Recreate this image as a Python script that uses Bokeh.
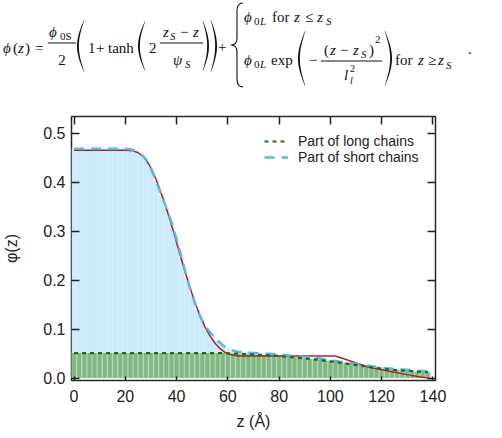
import math
from bokeh.plotting import figure
from bokeh.models import (Range1d, LinearAxis, Legend, LegendItem, FixedTicker,
                          PrintfTickFormatter, CustomJSTickFormatter, Div)
from bokeh.layouts import column
from bokeh.embed import file_html
from bokeh.resources import INLINE

# ---------------- data ----------------
z = list(range(0, 140, 2))  # depth, Å (0..138)

long_part = [0.051] * 30 + [
    0.0505, 0.050, 0.0498, 0.049, 0.0485, 0.048, 0.0475, 0.047, 0.0465, 0.046,
    0.045, 0.044, 0.043, 0.042, 0.041, 0.040, 0.039, 0.038, 0.037, 0.035,
    0.034, 0.033, 0.031, 0.030, 0.028, 0.027, 0.025, 0.024, 0.022, 0.021,
    0.019, 0.018, 0.017, 0.016, 0.0155, 0.015, 0.014, 0.013, 0.0125, 0.012]

short_part = [0.417] * 11 + [
    0.416, 0.413, 0.407, 0.396, 0.377, 0.351, 0.324, 0.296, 0.267, 0.232,
    0.194, 0.154, 0.119, 0.089, 0.066, 0.049, 0.037, 0.026, 0.016, 0.0095,
    0.006, 0.004] + [0.003] * 18 + [0.002] * 19

fit_z = [0, 20, 23, 25, 27, 29, 31, 33, 35, 37, 39, 41, 43, 45, 47, 49, 51, 53,
         55, 57, 59, 61, 64, 102, 115, 120, 125, 130, 134, 138]
fit_y = [0.465, 0.465, 0.464, 0.460, 0.452, 0.438, 0.418, 0.392, 0.362, 0.330,
         0.295, 0.258, 0.222, 0.188, 0.157, 0.129, 0.105, 0.086, 0.071, 0.060,
         0.052, 0.048, 0.045, 0.045, 0.022, 0.017, 0.012, 0.007, 0.003, 0.0]

total = [a + b for a, b in zip(long_part, short_part)]

x_ticks = [0, 20, 40, 60, 80, 100, 120, 140]
y_ticks = [0.0, 0.1, 0.2, 0.3, 0.4, 0.5]

SANS = "Liberation Sans"
SERIF = "Liberation Serif"
INK = "#111111"
PHI = "ϕ"

# ---------------- equation (inline SVG text in a Div) ----------------
parts = []


def t(x, y, s, size=15, italic=False, anchor="start"):
    style = "italic" if italic else "normal"
    parts.append(f'<text x="{x}" y="{y}" text-anchor="{anchor}" '
                 f'style="font-family:\'{SERIF}\',\'DejaVu Serif\',serif;font-size:{size}px;'
                 f'font-style:{style};font-weight:normal;fill:{INK}">{s}</text>')


def poly(pts):
    d = "M" + " L".join(f"{a:.2f},{b:.2f}" for a, b in pts) + " Z"
    parts.append(f'<path d="{d}" fill="{INK}" stroke="none"/>')


def paren(l, r, top, bot, left=True, th=1.5):
    n = 24
    w = r - l
    outer, inner = [], []
    for i in range(n + 1):
        s = i / n
        yy = top + s * (bot - top)
        k = math.sin(math.pi * s)
        if left:
            xo = r - w * k
            xi = xo + 0.35 + th * k
        else:
            xo = l + w * k
            xi = xo - 0.35 - th * k
        outer.append((xo, yy))
        inner.append((xi, yy))
    poly(outer + inner[::-1])


def bar(x0, x1, y):
    poly([(x0, y - 0.5), (x1, y - 0.5), (x1, y + 0.5), (x0, y + 0.5)])


# phi(z) =
t(3, 53, PHI, italic=True)
t(13, 53, "(")
t(18, 53, "z", italic=True)
t(25, 53, ")")
t(35, 53, "=")
# phi_0S / 2
t(49, 37, PHI, italic=True)
t(60, 40, "0S", size=11)
bar(48, 76, 43)
t(62, 65, "2", anchor="middle")
paren(77, 84, 20, 72, left=True)
t(88, 53, "1")
t(96, 53, "+")
t(108, 53, "tanh")
paren(138, 145, 21, 71, left=True)
t(149, 53, "2")
t(163, 37, "z", italic=True)
t(170, 40, "S", size=11, italic=True)
t(180, 37, "−")
t(193, 37, "z", italic=True)
bar(160, 203, 43)
t(173, 65, "ψ", italic=True)
t(185, 68, "S", size=11, italic=True)
paren(203, 209, 21, 71, left=False)
paren(211, 217, 20, 72, left=False)
t(218, 52, "+")
# brace
parts.append(f'<path d="M243,3 Q237,3 237,11 L237,38 Q237,45 231,45 Q237,45 237,52 '
             f'L237,79 Q237,87 243,87" fill="none" stroke="{INK}" stroke-width="1.1"/>')
# top row
t(244, 22, PHI, italic=True)
t(254, 25, "0", size=11)
t(260, 25, "L", size=11, italic=True)
t(272, 22, "for")
t(294, 22, "z", italic=True)
t(305, 22, "≤")
t(317, 22, "z", italic=True)
t(326, 25, "S", size=11, italic=True)
# bottom row
t(244, 65, PHI, italic=True)
t(254, 68, "0", size=11)
t(260, 68, "L", size=11, italic=True)
t(271, 65, "exp")
paren(298, 305, 31, 86, left=True)
t(309, 65, "−")
t(324, 55, "(")
t(330, 55, "z", italic=True)
t(340, 55, "−")
t(353, 55, "z", italic=True)
t(361, 58, "S", size=11, italic=True)
t(369, 55, ")")
t(375, 43, "2", size=11)
bar(321, 382, 61)
t(344, 80, "l", italic=True)
t(350, 72, "2", size=10)
t(350, 84, "l", size=10, italic=True)
paren(385, 392, 31, 86, left=False)
t(395, 65, "for")
t(418, 65, "z", italic=True)
t(428, 65, "≥")
t(438, 65, "z", italic=True)
t(446, 69, "S", size=11, italic=True)
t(468, 54, ".")

svg = ('<svg xmlns="http://www.w3.org/2000/svg" width="502" height="95" '
       'style="display:block">' + "".join(parts) + "</svg>")
eq = Div(text=svg, width=502, height=95, margin=0, styles={"padding": "0", "margin": "0"})

# ---------------- chart ----------------
XMIN, XMAX, YMIN, YMAX = -1, 141, -0.005, 0.534
p = figure(width=502, height=343, x_range=Range1d(XMIN, XMAX), y_range=Range1d(YMIN, YMAX),
           output_backend="svg", toolbar_location=None,
           min_border_left=70, min_border_right=67, min_border_top=21, min_border_bottom=58)
p.grid.visible = False
p.outline_line_color = "#2a2a2a"
p.outline_line_width = 1.5

p.vbar(x=z, top=total, width=2.0, bottom=0, fill_color="#cdebfb", line_color=None)
p.vbar(x=z, top=long_part, width=2.0, bottom=0, fill_color="#a6d0a6", line_color=None)
p.vbar(x=z, top=long_part, width=1.4, bottom=0, fill_color="#82b982", line_color=None)

p.line(fit_z, fit_y, line_color="#b22222", line_width=1.5)
r_short = p.line(z, total, line_color="#5ab6e8", line_width=2.5, line_dash="10 7")
r_long = p.line(z, long_part, line_color="#1d6b1d", line_width=2.2, line_dash="4 4")

legend = Legend(items=[LegendItem(label="Part of long chains", renderers=[r_long]),
                       LegendItem(label="Part of short chains", renderers=[r_short])],
                location=(193, 215), glyph_width=24, glyph_height=16, label_height=16,
                spacing=0, padding=0, margin=0, label_standoff=10,
                border_line_color=None, background_fill_alpha=0,
                label_text_font=SANS, label_text_font_size="14px", label_text_color="#222222")
p.add_layout(legend)

p.add_layout(LinearAxis(), "above")
p.add_layout(LinearAxis(), "right")

for ax in p.xaxis:
    ax.ticker = FixedTicker(ticks=x_ticks)
for ax in p.yaxis:
    ax.ticker = FixedTicker(ticks=y_ticks)
    ax.formatter = PrintfTickFormatter(format="%.1f")

for ax in p.axis:
    ax.axis_line_color = None
    ax.major_tick_out = 0
    ax.major_tick_in = 8
    ax.minor_tick_line_color = None
    ax.major_tick_line_color = "#222222"
    ax.major_tick_line_width = 1.5
    ax.major_label_text_font = SANS
    ax.major_label_text_font_size = "16px"
    ax.major_label_text_color = "#222222"
    ax.axis_label_text_font = SANS
    ax.axis_label_text_font_size = "16px"
    ax.axis_label_text_font_style = "normal"
    ax.axis_label_text_color = "#222222"

p.below[0].major_tick_in = 4
p.below[0].major_label_standoff = 9
p.below[0].axis_label = "z (Å)"
p.below[0].axis_label_standoff = 8
p.left[0].major_label_standoff = 6
p.left[0].axis_label = "φ(z)"
p.left[0].axis_label_standoff = 20
for ax in (p.above[0], p.right[0]):
    ax.formatter = CustomJSTickFormatter(code="return ''")
    ax.major_label_standoff = 0

layout = column(eq, p, spacing=0)
open("out.html", "w").write(file_html(layout, INLINE))
